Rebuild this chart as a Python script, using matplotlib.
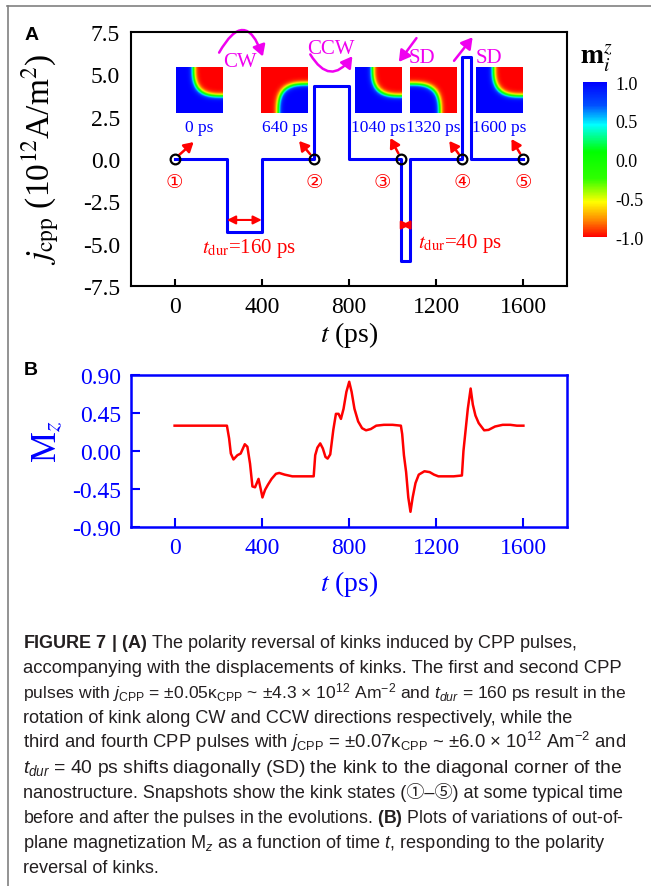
import matplotlib
matplotlib.use("Agg")
import matplotlib.pyplot as plt
import numpy as np
from matplotlib.colors import LinearSegmentedColormap, Normalize
from matplotlib.cm import ScalarMappable
from matplotlib.patches import FancyArrowPatch
from matplotlib.lines import Line2D

plt.rcParams['font.family'] = 'Liberation Serif'
plt.rcParams['mathtext.fontset'] = 'stix'
plt.rcParams['mathtext.rm'] = 'Liberation Sans'
plt.rcParams['mathtext.it'] = 'Liberation Sans:italic'
plt.rcParams['mathtext.bf'] = 'Liberation Sans:bold'
plt.rcParams['axes.unicode_minus'] = False

# CPP pulses: start time (ps), duration (ps), amplitude (10^12 A/m^2)
pulse_start = [240, 640, 1040, 1320]
pulse_dur = [160, 160, 40, 40]
pulse_amp = [-4.3, 4.3, -6.0, 6.0]
t_end = 1600

# snapshot times and kink state (corner of the kink, m_z inside the kink)
snap_t = [0, 640, 1040, 1320, 1600]
snap_corner = ['tr', 'br', 'tr', 'bl', 'tr']
snap_inner = [-1, 1, -1, 1, -1]
snap_marks = ['\u2460', '\u2461', '\u2462', '\u2463', '\u2464']

# out-of-plane magnetization M_z vs time
mz_t = [0, 240, 250, 258, 270, 288, 303, 322, 334, 346, 357, 369, 385, 395, 403,
        415, 428, 445, 465, 480, 505, 540, 600, 638, 645, 655, 668, 680, 692, 702,
        714, 728, 740, 752, 763, 775, 788, 801, 812, 825, 842, 860, 878, 900, 925,
        960, 1000, 1038, 1044, 1052, 1062, 1072, 1082, 1092, 1105, 1120, 1146, 1170,
        1190, 1210, 1240, 1280, 1318, 1325, 1335, 1345, 1358, 1368, 1380, 1395, 1420,
        1440, 1470, 1505, 1540, 1570, 1600]
mz = [0.30, 0.30, 0.15, -0.03, -0.10, -0.05, -0.03, 0.08, 0.05, -0.15, -0.42, -0.43, -0.33, -0.45, -0.55,
      -0.46, -0.40, -0.33, -0.27, -0.26, -0.28, -0.30, -0.30, -0.30, -0.05, 0.04, 0.09, 0.03, -0.07, -0.09,
      -0.04, 0.25, 0.44, 0.44, 0.38, 0.50, 0.70, 0.82, 0.70, 0.50, 0.35, 0.27, 0.245, 0.26, 0.30,
      0.31, 0.31, 0.30, 0.20, -0.05, -0.25, -0.55, -0.72, -0.55, -0.38, -0.28, -0.24, -0.25,
      -0.28, -0.30, -0.30, -0.30, -0.29, 0.0, 0.25, 0.50, 0.74, 0.55, 0.42, 0.33, 0.245,
      0.25, 0.29, 0.31, 0.31, 0.30, 0.30]

caption = [
    r'$\mathbf{FIGURE\ 7\ |\ (A)}$ The polarity reversal of kinks induced by CPP pulses,',
    'accompanying with the displacements of kinks. The first and second CPP',
    r'pulses with $j_{\rm CPP}$ = ±0.05κ$_{\rm CPP}$ ~ ±4.3 × 10$^{12}$ Am$^{-2}$ and $t_{dur}$ = 160 ps result in the',
    'rotation of kink along CW and CCW directions respectively, while the',
    r'third and fourth CPP pulses with $j_{\rm CPP}$ = ±0.07κ$_{\rm CPP}$ ~ ±6.0 × 10$^{12}$ Am$^{-2}$ and',
    r'$t_{dur}$ = 40 ps shifts diagonally (SD) the kink to the diagonal corner of the',
    'nanostructure. Snapshots show the kink states (\u2460\u2013\u2464) at some typical time',
    r'before and after the pulses in the evolutions. $\mathbf{(B)}$ Plots of variations of out-of-',
    r'plane magnetization M$_z$ as a function of time $t$, responding to the polarity',
    'reversal of kinks.',
]
caption_size = [13.0, 13.3, 12.6, 13.1, 13.3, 13.9, 13.0, 12.8, 13.1, 13.1]

W, H = 651, 887


def box(l, t, r, b):
    return [l / W, 1 - b / H, (r - l) / W, (b - t) / H]


cmap = LinearSegmentedColormap.from_list('mz', [
    (0.0, '#ff0000'), (0.1, '#ff8000'), (0.225, '#ffff00'), (0.375, '#30ff00'),
    (0.55, '#00ff00'), (0.725, '#00ffff'), (0.85, '#0050ff'), (1.0, '#0000ff')])

blue = '#0000ff'
mag = '#f000f0'

fig = plt.figure(figsize=(W / 100, H / 100), dpi=100)

# ---------------- panel A: pulse train ----------------
axA = fig.add_axes(box(131, 33, 567, 287))
t_step, j_step = [0], [0]
for s, d, a in zip(pulse_start, pulse_dur, pulse_amp):
    t_step += [s, s, s + d, s + d]
    j_step += [0, a, a, 0]
t_step.append(t_end)
j_step.append(0)
axA.plot(t_step, j_step, color=blue, lw=2.2, zorder=3)
axA.plot(snap_t, np.zeros(len(snap_t)), 'o', mfc='none', mec='k', ms=7, mew=1.6, zorder=4)

axA.set_xlim(-200, 1800)
axA.set_ylim(-7.5, 7.5)
axA.set_xticks([0, 400, 800, 1200, 1600])
axA.set_yticks(np.arange(-7.5, 7.6, 2.5))
axA.set_yticklabels(['%.1f' % v for v in np.arange(-7.5, 7.6, 2.5)])
axA.tick_params(axis='x', direction='in', length=5, width=1.5, labelsize=17, pad=7)
axA.tick_params(axis='y', length=0, labelsize=17, pad=8)
for sp in axA.spines.values():
    sp.set_linewidth(1.5)
axA.set_xlabel(r'$t$ (ps)', fontsize=20)
axA.xaxis.set_label_coords(0.5, -0.13)
axA.set_ylabel(r'$j_{\rm cpp}$ (10$^{12}$A/m$^2$)', fontsize=24, va='center')
axA.yaxis.set_label_coords(-0.209, 0.504)

# arrows from the marked states to the snapshots, state numbers below
snap_arrow = [(13.7, 12.2), (-10.8, 13.0), (-7.9, 15.1), (-9.4, 13.0), (-8.6, 14.4)]
mark_off = [(0, -16), (0, -16), (-14, -16), (0, -16), (0, -16)]
for t, (dx, dy), mk, off in zip(snap_t, snap_arrow, snap_marks, mark_off):
    axA.annotate('', xy=(t, 0), xytext=(dx, dy), textcoords='offset points',
                 arrowprops=dict(arrowstyle='<|-,head_length=0.55,head_width=0.32',
                                 color='red', lw=1.8, shrinkA=0, shrinkB=4.5))
    axA.annotate(mk, xy=(t, 0), xytext=off, textcoords='offset points', color='red',
                 fontsize=14, ha='center', va='center',
                 family=['DejaVu Sans', 'Noto Sans CJK SC'])

# pulse duration markers
for i, y, ly, lx in [(0, -3.6, -5.25, 340), (2, -3.9, -4.95, 1310)]:
    s, d = pulse_start[i], pulse_dur[i]
    axA.annotate('', xy=(s, y), xytext=(s + d, y),
                 arrowprops=dict(arrowstyle='<|-|>,head_length=0.5,head_width=0.25',
                                 color='red', lw=1.5, shrinkA=0, shrinkB=0))
    axA.text(lx, ly, r'$t_{\rm dur}$=%d ps' % d, color='red', fontsize=15,
             ha='center', va='center')

# rotation / shift annotations
arrow_kw = dict(arrowstyle='-|>,head_length=0.55,head_width=0.32', color=mag, lw=1.8,
                mutation_scale=12, clip_on=False)
axA.add_patch(FancyArrowPatch((198, 6.14), (409, 5.9), connectionstyle='arc3,rad=-1.15',
                              **arrow_kw))
axA.add_patch(FancyArrowPatch((616, 6.32), (823, 6.2), connectionstyle='arc3,rad=0.8',
                              **arrow_kw))
axA.add_patch(FancyArrowPatch((1117, 7.27), (1021, 5.6), **arrow_kw))
axA.add_patch(FancyArrowPatch((1274, 5.67), (1375, 7.32), **arrow_kw))
for x, y, s in [(299, 5.73, 'CW'), (717, 6.5, 'CCW'), (1136, 6.0, 'SD'), (1444, 6.0, 'SD')]:
    axA.text(x, y, s, color=mag, fontsize=15, ha='center', va='center')

# kink snapshots
n = 80
xx, yy = np.meshgrid((np.arange(n) + 0.5) / n, (np.arange(n) + 0.5) / n)
corner_xy = {'tr': (1, 1), 'br': (1, 0), 'bl': (0, 0), 'tl': (0, 1)}
snap_left = [176, 261, 355, 410, 476]
for left, t, c, inner in zip(snap_left, snap_t, snap_corner, snap_inner):
    cx, cy = corner_xy[c]
    d = (np.abs(xx - cx) ** 3 + np.abs(yy - cy) ** 3) ** (1 / 3)
    m = -inner * np.tanh((d - 0.63) / 0.06)
    ins = fig.add_axes(box(left, 68, left + 47, 114))
    ins.imshow(m, origin='lower', extent=[0, 1, 0, 1], cmap=cmap, vmin=-1, vmax=1,
               interpolation='bilinear', aspect='auto')
    ins.axis('off')
    fig.text((left + 23.5) / W, 1 - 128 / H, '%d ps' % t, color=blue, fontsize=12.5,
             ha='center', va='center')

# colorbar
cax = fig.add_axes(box(583, 83, 607, 238))
cb = fig.colorbar(ScalarMappable(Normalize(-1, 1), cmap), cax=cax)
cb.set_ticks([1, 0.5, 0, -0.5, -1])
cb.set_ticklabels(['1.0', '0.5', '0.0', '-0.5', '-1.0'])
cb.outline.set_visible(False)
cax.tick_params(length=0, labelsize=13, pad=6)
fig.text(596 / W, 1 - 58 / H, r'$\mathbf{m}_i^z$', fontsize=20, ha='center', va='center')

# ---------------- panel B: M_z ----------------
axB = fig.add_axes(box(131, 376, 567, 528))
axB.plot(mz_t, mz, color='#ff0000', lw=1.8)
axB.set_xlim(-200, 1800)
axB.set_ylim(-0.9, 0.9)
axB.set_xticks([0, 400, 800, 1200, 1600])
axB.set_yticks([-0.9, -0.45, 0, 0.45, 0.9])
axB.set_yticklabels(['-0.90', '-0.45', '0.00', '0.45', '0.90'])
axB.tick_params(direction='in', length=6.5, width=1.5, colors=blue, labelsize=17, pad=7)
for sp in axB.spines.values():
    sp.set_linewidth(1.8)
    sp.set_color(blue)
axB.set_xlabel(r'$t$ (ps)', fontsize=20, color=blue)
axB.xaxis.set_label_coords(0.5, -0.27)
axB.set_ylabel(r'M$_z$', fontsize=25, color=blue, va='center')
axB.yaxis.set_label_coords(-0.19, 0.57)

# panel letters and page frame
fig.text(32 / W, 1 - 35 / H, 'A', fontsize=14, fontweight='bold', family='Liberation Sans',
         ha='center', va='center')
fig.text(31 / W, 1 - 371 / H, 'B', fontsize=14, fontweight='bold', family='Liberation Sans',
         ha='center', va='center')
fig.add_artist(Line2D([7 / W, 1], [1 - 7 / H, 1 - 7 / H], color='#808080', lw=1.2))
fig.add_artist(Line2D([8 / W, 8 / W], [0, 1 - 7 / H], color='#808080', lw=1.2))

# caption
for i, (line, fs) in enumerate(zip(caption, caption_size)):
    fig.text(23 / W, 1 - (648 + 25 * i) / H, line, fontsize=fs, ha='left', va='baseline',
             color='#231f20', family=['Liberation Sans', 'Noto Sans CJK SC'],
             math_fontfamily='custom')

fig.savefig('out.png', dpi=100)
